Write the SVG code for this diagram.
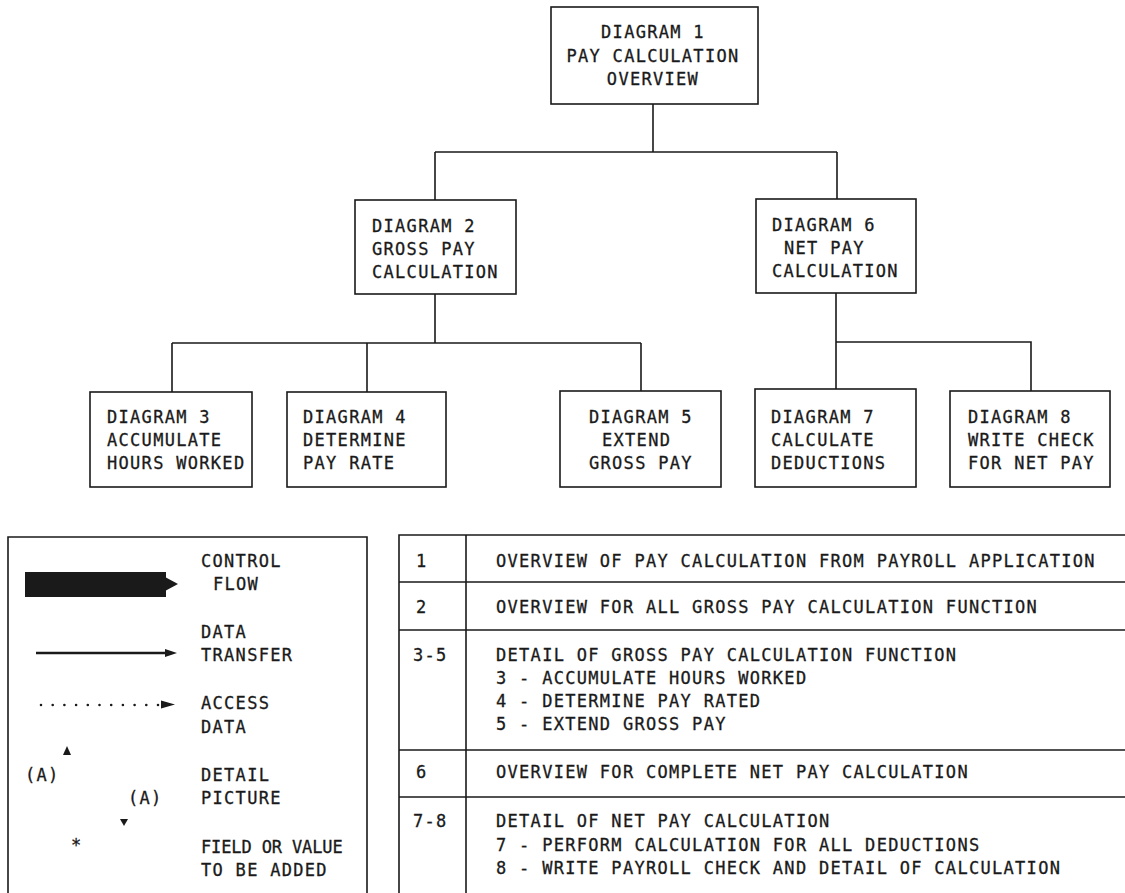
<svg xmlns="http://www.w3.org/2000/svg" width="1125" height="893" viewBox="0 0 1125 893">
<style>
.t{font-family:"DejaVu Sans Mono","Liberation Mono",monospace;font-size:17px;letter-spacing:1.3px;fill:#1a1a1a;stroke:#1a1a1a;stroke-width:0.3}
.c{text-anchor:middle}
.box{fill:#fff;stroke:#1a1a1a;stroke-width:1.6}
.ln{fill:none;stroke:#1a1a1a;stroke-width:1.6}
.fill{fill:#1a1a1a}
</style>
<rect width="1125" height="893" fill="#fff"/>
<g id="connectors" class="ln">
<path d="M653,104 V152 M435,152 H837 M435,152 V200 M837,152 V199"/>
<path d="M435,294 V343 M172,343 H641 M172,343 V392 M367,343 V392 M641,343 V391"/>
<path d="M836,293 V389 M836,342 H1031 V391"/>
</g>
<g id="d1">
<rect class="box" x="551" y="7" width="207" height="97"/>
<text class="t c" x="653" y="38">DIAGRAM 1</text>
<text class="t c" x="653" y="62">PAY CALCULATION</text>
<text class="t c" x="653" y="85">OVERVIEW</text>
</g>
<g id="d2">
<rect class="box" x="355" y="200" width="161" height="94"/>
<text class="t" x="372" y="232">DIAGRAM 2</text>
<text class="t" x="372" y="255">GROSS PAY</text>
<text class="t" x="372" y="278">CALCULATION</text>
</g>
<g id="d6">
<rect class="box" x="756" y="199" width="160" height="94"/>
<text class="t" x="772" y="231">DIAGRAM 6</text>
<text class="t" x="784" y="254">NET PAY</text>
<text class="t" x="772" y="277">CALCULATION</text>
</g>
<g id="d3">
<rect class="box" x="90" y="392" width="162" height="95"/>
<text class="t" x="107" y="423">DIAGRAM 3</text>
<text class="t" x="107" y="446">ACCUMULATE</text>
<text class="t" x="107" y="469">HOURS WORKED</text>
</g>
<g id="d4">
<rect class="box" x="287" y="392" width="159" height="95"/>
<text class="t" x="303" y="423">DIAGRAM 4</text>
<text class="t" x="303" y="446">DETERMINE</text>
<text class="t" x="303" y="469">PAY RATE</text>
</g>
<g id="d5">
<rect class="box" x="560" y="391" width="161" height="96"/>
<text class="t" x="589" y="423">DIAGRAM 5</text>
<text class="t" x="602" y="446">EXTEND</text>
<text class="t" x="589" y="469">GROSS PAY</text>
</g>
<g id="d7">
<rect class="box" x="755" y="389" width="161" height="98"/>
<text class="t" x="771" y="423">DIAGRAM 7</text>
<text class="t" x="771" y="446">CALCULATE</text>
<text class="t" x="771" y="469">DEDUCTIONS</text>
</g>
<g id="d8">
<rect class="box" x="950" y="391" width="160" height="96"/>
<text class="t" x="968" y="423">DIAGRAM 8</text>
<text class="t" x="968" y="446">WRITE CHECK</text>
<text class="t" x="968" y="469">FOR NET PAY</text>
</g>
<g id="legend">
<path class="ln" d="M8,900 V537 H367 V900"/>
<rect class="fill" x="25" y="572" width="141" height="25"/>
<polygon class="fill" points="165,577 178,584 165,591"/>
<text class="t" x="201" y="567">CONTROL</text>
<text class="t" x="213" y="590">FLOW</text>
<line x1="36" y1="653" x2="168" y2="653" stroke="#1a1a1a" stroke-width="2.4"/>
<polygon class="fill" points="165,649 177,653 165,657"/>
<text class="t" x="201" y="638">DATA</text>
<text class="t" x="201" y="661">TRANSFER</text>
<path d="M41,705 H158" stroke="#1a1a1a" stroke-width="2.6" stroke-linecap="round" stroke-dasharray="0 11.7"/>
<polygon class="fill" points="161,700.5 175,704.5 161,708.5"/>
<text class="t" x="201" y="709">ACCESS</text>
<text class="t" x="201" y="733">DATA</text>
<polygon class="fill" points="63,755 67,746 71,755"/>
<text class="t" x="25" y="781">(A)</text>
<text class="t" x="201" y="781">DETAIL</text>
<text class="t" x="128" y="804">(A)</text>
<text class="t" x="201" y="804">PICTURE</text>
<polygon class="fill" points="120,819 128,819 124,826"/>
<text class="t" x="71" y="851">*</text>
<text class="t" x="201" y="853" textLength="143" lengthAdjust="spacing">FIELD OR VALUE</text>
<text class="t" x="201" y="876">TO BE ADDED</text>
</g>
<g id="table">
<path class="ln" d="M399,900 V535 H1125 M466,535 V900 M399,582 H1125 M399,630 H1125 M399,750 H1125 M399,797 H1125"/>
<text class="t" x="416" y="567">1</text>
<text class="t" x="496" y="567">OVERVIEW OF PAY CALCULATION FROM PAYROLL APPLICATION</text>
<text class="t" x="416" y="613">2</text>
<text class="t" x="496" y="613">OVERVIEW FOR ALL GROSS PAY CALCULATION FUNCTION</text>
<text class="t" x="413" y="661">3-5</text>
<text class="t" x="496" y="661">DETAIL OF GROSS PAY CALCULATION FUNCTION</text>
<text class="t" x="496" y="684">3 - ACCUMULATE HOURS WORKED</text>
<text class="t" x="496" y="707">4 - DETERMINE PAY RATED</text>
<text class="t" x="496" y="730">5 - EXTEND GROSS PAY</text>
<text class="t" x="416" y="778">6</text>
<text class="t" x="496" y="778">OVERVIEW FOR COMPLETE NET PAY CALCULATION</text>
<text class="t" x="413" y="827">7-8</text>
<text class="t" x="496" y="827">DETAIL OF NET PAY CALCULATION</text>
<text class="t" x="496" y="851">7 - PERFORM CALCULATION FOR ALL DEDUCTIONS</text>
<text class="t" x="496" y="874">8 - WRITE PAYROLL CHECK AND DETAIL OF CALCULATION</text>
</g>
</svg>
